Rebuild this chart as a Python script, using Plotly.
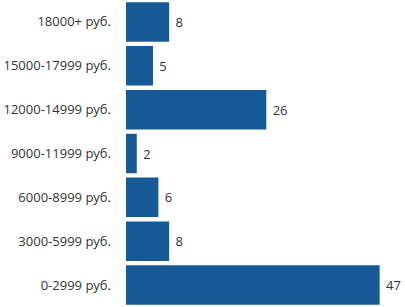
import plotly.graph_objects as go

categories = ["18000+ руб.", "15000-17999 руб.", "12000-14999 руб.", "9000-11999 руб.",
              "6000-8999 руб.", "3000-5999 руб.", "0-2999 руб."]
values = [8, 5, 26, 2, 6, 8, 47]

FONT = "Open Sans, sans-serif"

fig = go.Figure(go.Bar(
    y=categories, x=values, orientation="h",
    marker=dict(color="#155a97", line=dict(width=0)),
    texttemplate="\u00a0%{x}", textposition="outside",
    textfont=dict(family=FONT, size=13, color="#333333"),
    cliponaxis=False,
))
fig.update_layout(
    width=405, height=307,
    margin=dict(l=126, r=0, t=0, b=0),
    paper_bgcolor="white", plot_bgcolor="white",
    bargap=0.1, showlegend=False,
    font=dict(family=FONT, size=13, color="#333333"),
    xaxis=dict(range=[0, 51.7], visible=False),
    yaxis=dict(autorange="reversed", showgrid=False, showline=False, zeroline=False,
               ticks="", ticklabelstandoff=14, automargin=False,
               tickfont=dict(family=FONT, size=13, color="#333333")),
)
fig.write_html("out.html", config={"displayModeBar": False},
               post_script="document.body.style.margin='0';")
